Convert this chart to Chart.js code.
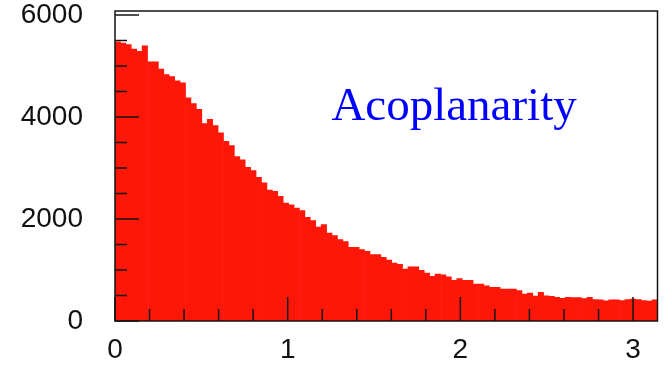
<!DOCTYPE html>
<html>
<head>
<meta charset="utf-8">
<title>Acoplanarity</title>
<script src="https://cdn.jsdelivr.net/npm/chart.js@4.4.1/dist/chart.umd.min.js"></script>
<style>
  body { margin: 0; background: #fff; }
  canvas { display: block; }
</style>
</head>
<body>
<canvas id="myChart" width="664" height="368"></canvas>
<script>
// entries per bin, 100 equal bins from 0 to pi
const counts = [
  5475, 5450, 5420, 5335, 5290, 5395, 5085, 5085, 4940, 4835,
  4795, 4710, 4670, 4375, 4265, 4150, 3870, 3955, 3835, 3690,
  3525, 3440, 3225, 3160, 3015, 2950, 2820, 2710, 2570, 2545,
  2445, 2315, 2280, 2215, 2165, 2035, 1970, 1840, 1890, 1725,
  1675, 1595, 1560, 1445, 1445, 1400, 1365, 1305, 1305, 1250,
  1195, 1135, 1110, 1020, 1060, 1060, 995, 940, 875, 920,
  905, 865, 800, 830, 800, 800, 725, 725, 690, 660,
  660, 625, 625, 625, 595, 530, 550, 490, 560, 495,
  485, 465, 445, 465, 460, 460, 440, 465, 420, 415,
  395, 415, 415, 400, 420, 430, 420, 400, 390, 415,
];
const xRange = [0, Math.PI];
const yRange = [0, 6080];
const xTicks = [0, 1, 2, 3];
const yTicks = [0, 2000, 4000, 6000];
const xMinorStep = 0.2;
const yMinorStep = 500;
const title = "Acoplanarity";

const histo = {
  ctx: document.getElementById("myChart"),
  myChart: null,
  fill: "#fe1708",
  axisColor: "#141414",
  labelFont: { family: "'Liberation Sans', Arial, sans-serif", size: 28 },
  binCenters() {
    const width = (xRange[1] - xRange[0]) / counts.length;
    return counts.map((c, i) => ({ x: xRange[0] + (i + 0.5) * width, y: c }));
  },
  // frame round the plot plus inward tick marks, ROOT style
  framePlugin() {
    const self = this;
    return {
      id: "frame",
      afterDatasetsDraw(chart) {
        const { ctx, chartArea, scales } = chart;
        const { left, right, top, bottom } = chartArea;
        ctx.save();
        ctx.strokeStyle = self.axisColor;
        ctx.lineWidth = 1.5;
        ctx.strokeRect(left, top, right - left, bottom - top);
        ctx.beginPath();
        const xMajor = Math.round(1 / xMinorStep);
        for (let k = 0; k * xMinorStep <= xRange[1]; k++) {
          const px = scales.x.getPixelForValue(k * xMinorStep);
          const len = k % xMajor === 0 ? 24 : 12;
          ctx.moveTo(px, bottom);
          ctx.lineTo(px, bottom - len);
        }
        const yMajor = Math.round((yTicks[1] - yTicks[0]) / yMinorStep);
        for (let k = 0; k * yMinorStep <= yRange[1]; k++) {
          const py = scales.y.getPixelForValue(k * yMinorStep);
          const len = k % yMajor === 0 ? 24 : 12;
          ctx.moveTo(left, py);
          ctx.lineTo(left + len, py);
        }
        ctx.stroke();
        ctx.restore();
      },
      afterDraw(chart) {
        const { ctx, chartArea } = chart;
        ctx.save();
        ctx.fillStyle = "#0000ff";
        ctx.font = "47px 'Liberation Serif', 'Times New Roman', serif";
        ctx.textAlign = "center";
        ctx.textBaseline = "alphabetic";
        ctx.fillText(
          title,
          chartArea.left + chartArea.width * 0.625,
          chartArea.top + chartArea.height * 0.352
        );
        ctx.restore();
      },
    };
  },
  createChart() {
    // eslint-disable-next-line
    this.myChart = new Chart(this.ctx, {
      type: "bar",
      data: {
        datasets: [
          {
            data: this.binCenters(),
            backgroundColor: this.fill,
            borderWidth: 0,
            barPercentage: 1,
            categoryPercentage: 1,
          },
        ],
      },
      options: {
        animation: false,
        responsive: false,
        layout: { padding: { top: 11, right: 6.5, left: 0, bottom: 0 } },
        plugins: { legend: { display: false }, tooltip: { enabled: false } },
        scales: {
          x: {
            type: "linear",
            min: xRange[0],
            max: xRange[1],
            offset: false,
            grid: { display: false, drawTicks: false },
            border: { display: false },
            afterBuildTicks(scale) {
              scale.ticks = xTicks.map((v) => ({ value: v }));
            },
            ticks: {
              autoSkip: false,
              maxRotation: 0,
              padding: 12,
              color: "#111",
              font: this.labelFont,
              callback: (v) => String(v),
            },
            afterFit(scale) {
              scale.height = 47;
              scale.paddingLeft = 0;
              scale.paddingRight = 0;
            },
          },
          y: {
            min: yRange[0],
            max: yRange[1],
            grid: { display: false, drawTicks: false },
            border: { display: false },
            afterBuildTicks(scale) {
              scale.ticks = yTicks.map((v) => ({ value: v }));
            },
            ticks: {
              autoSkip: false,
              padding: 32,
              color: "#111",
              font: this.labelFont,
              callback: (v) => String(v),
            },
            afterFit(scale) {
              scale.width = 115;
              scale.paddingTop = 0;
              scale.paddingBottom = 0;
            },
          },
        },
      },
      plugins: [this.framePlugin()],
    });
  },
};

histo.createChart();
</script>
</body>
</html>
